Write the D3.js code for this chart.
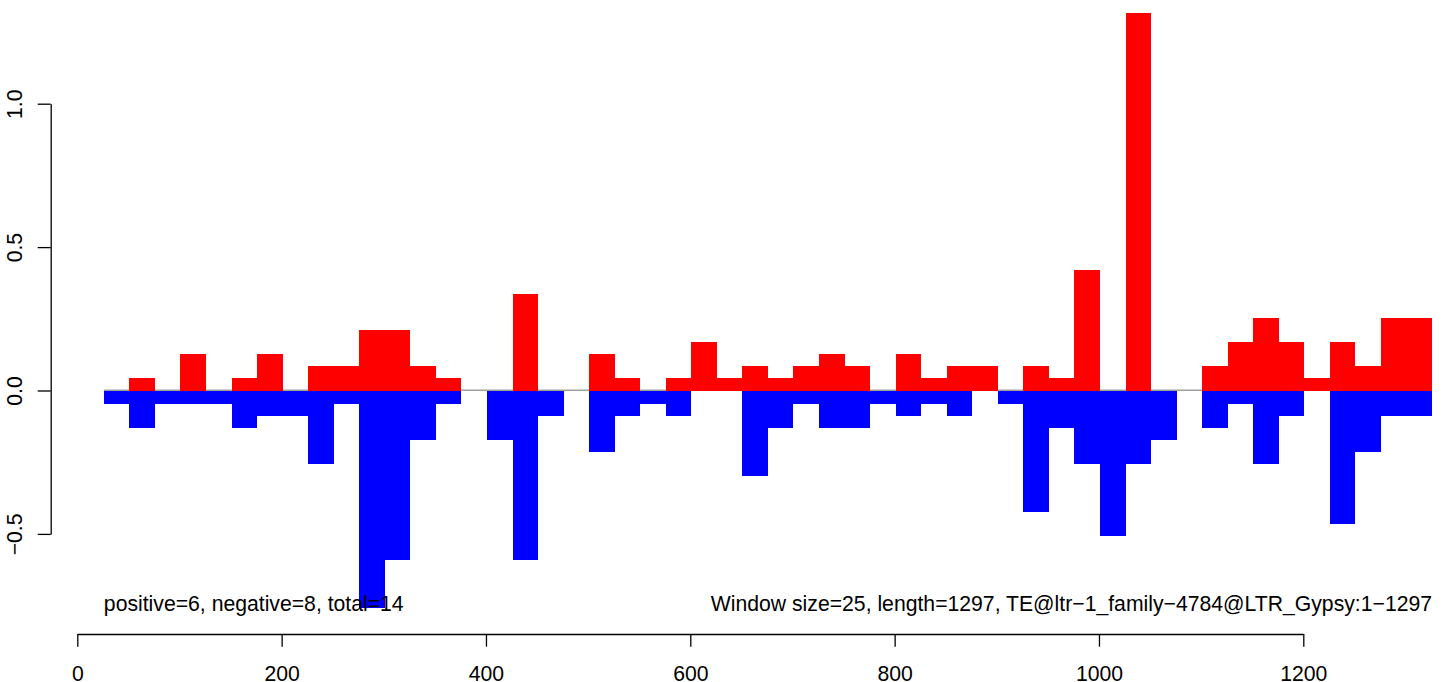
<!DOCTYPE html>
<html>
<head>
<meta charset="utf-8">
<script src="https://cdn.jsdelivr.net/npm/d3@7"></script>
<style>
  html, body { margin: 0; padding: 0; background: #fff; }
  svg { display: block; }
  text { font-family: "Liberation Sans", Arial, Helvetica, sans-serif; fill: #000; }
</style>
</head>
<body>
<svg id="chart" width="1449" height="682"></svg>
<script>
// Window start positions (window size 25)
const windowStart = [26, 51, 76, 101, 126, 151, 176, 201, 226, 251, 276, 301, 326, 351,
  376, 401, 426, 451, 476, 501, 526, 551, 576, 601, 626, 651, 676, 701, 726, 751, 776,
  801, 826, 851, 876, 901, 926, 951, 976, 1001, 1026, 1051, 1076, 1101, 1126, 1151,
  1176, 1201, 1226, 1251, 1276, 1301];
const windowSize = 25;

// positive-strand values per window
const positiveValues = [0, 0.044, 0, 0.127, 0, 0.044, 0.127, 0, 0.085, 0.085, 0.211, 0.211, 0.085, 0.044,
  0, 0, 0.337, 0, 0, 0.127, 0.044, 0, 0.044, 0.169, 0.044, 0.085, 0.044,
  0.085, 0.127, 0.085, 0, 0.127, 0.044, 0.085, 0.085, 0, 0.085, 0.044, 0.420, 0,
  1.316, 0, 0, 0.085, 0.169, 0.253, 0.169, 0.044, 0.169, 0.085, 0.253, 0.253];

// negative-strand values per window
const negativeValues = [-0.047, -0.131, -0.047, -0.047, -0.047, -0.131, -0.089, -0.089, -0.256, -0.047, -0.758, -0.591, -0.173, -0.047,
  0, -0.173, -0.591, -0.089, 0, -0.214, -0.089, -0.047, -0.089, 0, 0, -0.298, -0.131,
  -0.047, -0.131, -0.131, -0.047, -0.089, -0.047, -0.089, 0, -0.047, -0.424, -0.131, -0.256, -0.507,
  -0.256, -0.173, 0, -0.131, -0.047, -0.256, -0.089, 0, -0.466, -0.214, -0.089, -0.089];

const xTickValues = [0, 200, 400, 600, 800, 1000, 1200];
const xTickLabels = ["0", "200", "400", "600", "800", "1000", "1200"];
const yTickValues = [-0.5, 0, 0.5, 1.0];
const yTickLabels = ["\u22120.5", "0.0", "0.5", "1.0"];

const leftNote = "positive=6, negative=8, total=14";
const rightNote = "Window size=25, length=1297, TE@ltr\u22121_family\u22124784@LTR_Gypsy:1\u22121297";

const svg = d3.select("#chart");
const FS = 21.2;

const x = d3.scaleLinear().domain([0, 1200]).range([77.3, 1303.3]);
const y = d3.scaleLinear().domain([-0.5, 1.0]).range([533.9, 103.7]);

// zero line
svg.append("line")
  .attr("x1", x(windowStart[0]))
  .attr("x2", x(windowStart[windowStart.length - 1] + windowSize))
  .attr("y1", y(0) - 0.2).attr("y2", y(0) - 0.2)
  .attr("stroke", "#a0a0a0").attr("stroke-width", 1.4);

const data = windowStart.map((s, i) => ({ s, pos: positiveValues[i], neg: negativeValues[i] }));

svg.append("g").attr("shape-rendering", "crispEdges").selectAll("rect")
  .data(data.filter(d => d.pos > 0)).join("rect")
  .attr("x", d => x(d.s))
  .attr("width", d => x(d.s + windowSize) - x(d.s))
  .attr("y", d => y(d.pos))
  .attr("height", d => y(0) - y(d.pos))
  .attr("fill", "#ff0000");

svg.append("g").attr("shape-rendering", "crispEdges").selectAll("rect")
  .data(data.filter(d => d.neg < 0)).join("rect")
  .attr("x", d => x(d.s))
  .attr("width", d => x(d.s + windowSize) - x(d.s))
  .attr("y", y(0))
  .attr("height", d => y(d.neg) - y(0))
  .attr("fill", "#0000ff");

// x axis
const xAxis = d3.axisBottom(x)
  .tickValues(xTickValues)
  .tickFormat((d, i) => xTickLabels[i])
  .tickSize(12.7).tickSizeOuter(0).tickPadding(19.3);
const gx = svg.append("g").attr("transform", "translate(0,634)").call(xAxis);
gx.selectAll("path, line").attr("stroke", "#000").attr("stroke-width", 1.3);
gx.selectAll("text").attr("font-size", FS).attr("fill", "#000");
gx.attr("font-family", null).attr("font-size", null);

// y axis
const yAxis = d3.axisLeft(y)
  .tickValues(yTickValues)
  .tickFormat((d, i) => yTickLabels[i])
  .tickSize(13).tickSizeOuter(0);
const gy = svg.append("g").attr("transform", "translate(50.7,0)").call(yAxis);
gy.selectAll("path, line").attr("stroke", "#000").attr("stroke-width", 1.3);
gy.attr("font-family", null).attr("font-size", null);
gy.selectAll("text")
  .attr("font-size", FS).attr("fill", "#000")
  .attr("x", null).attr("dy", null)
  .attr("text-anchor", "middle")
  .attr("transform", "translate(-28.7,0) rotate(-90)");

// notes
svg.append("text")
  .attr("x", x(windowStart[0])).attr("y", 610.8)
  .attr("font-size", FS).attr("text-anchor", "start")
  .text(leftNote);
svg.append("text")
  .attr("x", x(windowStart[windowStart.length - 1] + windowSize)).attr("y", 610.8)
  .attr("font-size", FS).attr("text-anchor", "end")
  .text(rightNote);
</script>
</body>
</html>
